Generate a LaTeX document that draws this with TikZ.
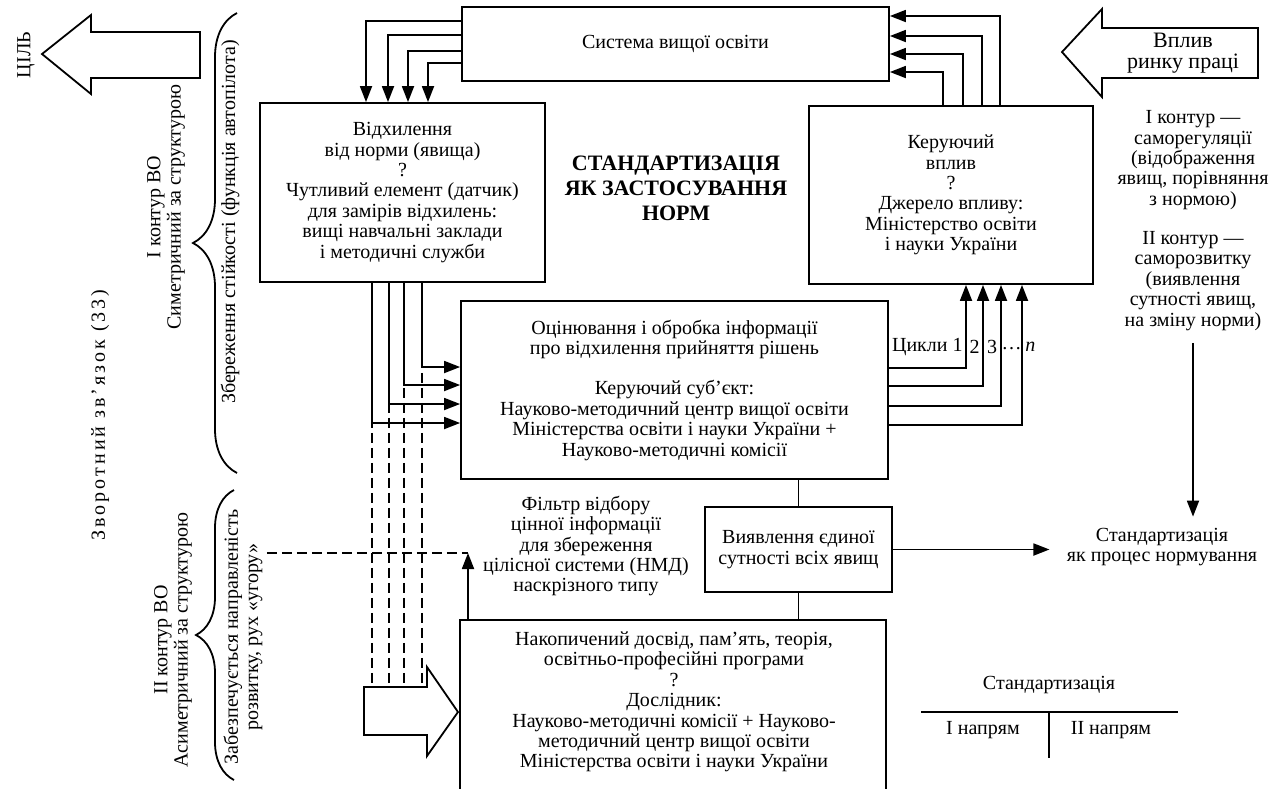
\documentclass[tikz,border=0pt]{standalone}
\usepackage{fontspec}
\setmainfont{Liberation Serif}
\usetikzlibrary{arrows.meta,decorations.pathreplacing}

\begin{document}
\begin{tikzpicture}[x=0.5pt,y=-0.5pt,
		font=\fontsize{10pt}{10.2pt}\selectfont,
		every node/.style={inner sep=0pt,align=center},
		box/.style={draw,line width=0.9pt},
		line/.style={line width=0.9pt},
		arr/.style={line width=0.9pt,-{Triangle[length=8pt,width=6pt]}},
		dline/.style={line width=0.9pt,dash pattern=on 5pt off 2.5pt},
		bigarrow/.style={draw,line width=0.9pt},
		vtext/.style={rotate=90},
		curly/.style={line width=0.9pt,decorate,decoration={brace,amplitude=#1}}]
	\useasboundingbox (0,0) rectangle (1285,788);
	\clip (0,0) rectangle (1285,788);
	\node[box,minimum width=213.5pt,minimum height=37pt] (sys) at (675.5,44) {Система вищої освіти};
	\node[box,minimum width=142.5pt,minimum height=89.5pt] (dev) at (402.5,192.5) {Відхилення\\від норми (явища)\\?\\Чутливий елемент (датчик)\\для замірів відхилень:\\вищі навчальні заклади\\і методичні служби};
	\node[box,minimum width=142pt,minimum height=89pt] (ctrl) at (951,195) {Керуючий\\вплив\\?\\Джерело впливу:\\Міністерство освіти\\і науки України};
	\node[font=\fontsize{11pt}{12.5pt}\selectfont\bfseries] (title) at (676,188) {СТАНДАРТИЗАЦІЯ\\ЯК ЗАСТОСУВАННЯ\\НОРМ};
	\node[box,minimum width=213.5pt,minimum height=89pt] (eval) at (674.5,390) {Оцінювання і обробка інформації\\про відхилення прийняття рішень\\[10pt]Керуючий суб’єкт:\\Науково-методичний центр вищої освіти\\Міністерства освіти і науки України +\\Науково-методичні комісії};
	\node[box,minimum width=93.5pt,minimum height=42.5pt] (find) at (798.5,549.5) {Виявлення єдиної\\сутності всіх явищ};
	\node[box,minimum width=213pt,minimum height=90pt] (acc) at (673,710) {};
	\node (acctext) at (674,702) {Накопичений досвід, пам’ять, теорія,\\освітньо-професійні програми\\?\\Дослідник:\\Науково-методичні комісії + Науково-\\методичний центр вищої освіти\\Міністерства освіти і науки України};
	\node (filter) at (586,546) {Фільтр відбору\\цінної інформації\\для збереження\\цілісної системи (НМД)\\наскрізного типу};
	\node (std) at (1162,547) {Стандартизація\\як процес нормування};
	\node (k1) at (1193,160) {I контур —\\саморегуляції\\(відображення\\явищ, порівняння\\з нормою)};
	\node (k2) at (1193,281) {II контур —\\саморозвитку\\(виявлення\\сутності явищ,\\на зміну норми)};
	\draw[bigarrow] (200,32) -- (91,32) -- (91,15) -- (42,54) -- (91,94) -- (91,78) -- (200,78) -- cycle;
	\draw[bigarrow] (1258,28) -- (1102,28) -- (1102,9) -- (1062,52) -- (1102,97) -- (1102,78) -- (1258,78) -- cycle;
	\draw[bigarrow] (364,687) -- (427,687) -- (427,667) -- (458,712) -- (427,756) -- (427,735) -- (364,735) -- cycle;
	\coordinate (fbtop) at (364,687);
	\node[font=\fontsize{11pt}{10.5pt}\selectfont] (market) at (1183,53) {Вплив\\ринку праці};
	\node[vtext] (goal) at (26,55) {ЦІЛЬ};
	\node[vtext,font=\fontsize{10pt}{10.2pt}\selectfont\addfontfeatures{LetterSpace=15}] (feedback) at (100,415) {Зворотний зв’язок (33)};
	\node[vtext] (loop1) at (166,207) {I контур ВО\\Симетричний за структурою};
	\node[vtext] (stab) at (230,222) {Збереження стійкості (функція автопілота)};
	\node[vtext] (loop2) at (173,640) {II контур ВО\\Асиметричний за структурою};
	\node[vtext] (dir) at (243,637) {Забезпечується направленість\\розвитку, рух «угору»};
	\draw[curly=22pt] (237,473) -- (237,13);
	\draw[curly=19pt] (234,780) -- (234,490);
	\node[anchor=east] (cyc1) at (963,347) {Цикли 1};
	\node (cyc2) at (974.5,347) {2};
	\node (cyc3) at (992,347) {3};
	\node (cycd) at (1011.5,349) {…};
	\node[anchor=west] (cycn) at (1025,347) {\textit{n}};
	\foreach \yy/\xx in {21/366,35/388,51/408,63/428}
		\draw[arr] (sys.west |- 0,\yy) -| (\xx,0 |- dev.north);
	\foreach \xx/\yy in {943/72,963/54,982/36,1000/16}
		\draw[arr] (\xx,0 |- ctrl.north) |- (sys.east |- 0,\yy);
	\foreach \xx/\yy in {372/423,389/404,404/385,422/367} {
		\draw[dline] (\xx,0 |- dev.south) -- (\xx,0 |- fbtop);
		\draw[arr] (\xx,0 |- dev.south) |- (eval.west |- 0,\yy);
	}
	\foreach \yy/\xx in {368/966,386/983,406/1001,425/1022}
		\draw[arr] (eval.east |- 0,\yy) -| (\xx,0 |- ctrl.south);
	\draw[line] (eval.south -| find.north) -- (find.north);
	\draw[line] (find.south) -- (find.south |- acc.north);
	\draw[arr,shorten >=8.5pt] (find.east) -- (find.east -| std.west);
	\draw[arr,shorten <=6pt,shorten >=5.5pt] (k2.south) -- (k2.south |- std.north);
	\coordinate (djoin) at (468,553);
	\draw[dline,shorten <=2pt] (dir.south |- djoin) -- (djoin);
	\draw[arr] (acc.north -| djoin) -- (djoin);
	\node (tabhead) at (1049,685) {Стандартизація};
	\node (dir1) at (983,730) {I напрям};
	\node (dir2) at (1111,730) {II напрям};
	\coordinate (tl) at (921,712);
	\coordinate (tr) at (1178,712);
	\draw[line] (tl) -- (tr);
	\draw[line] (tabhead |- tl) -- ++(0,46);
\end{tikzpicture}
\end{document}
